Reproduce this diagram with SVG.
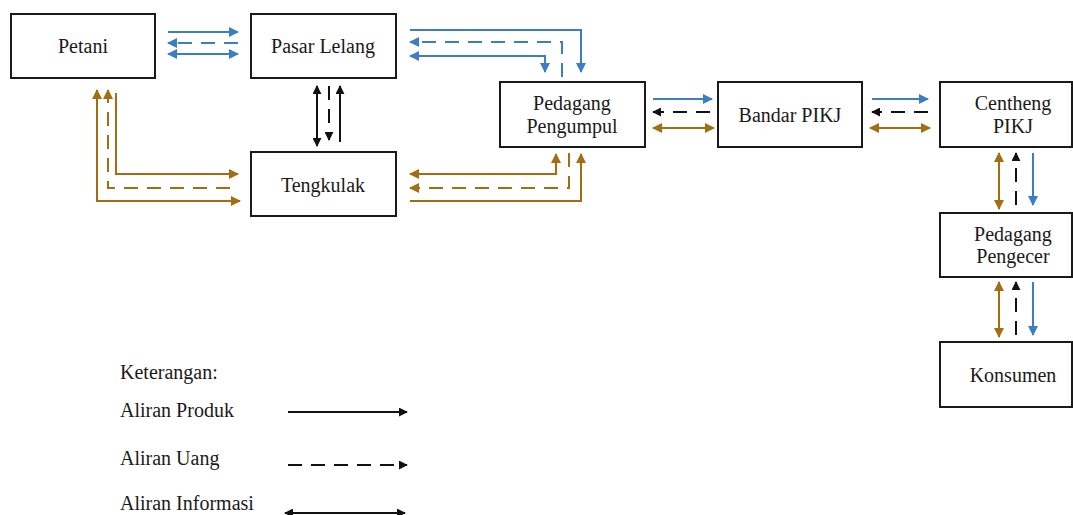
<svg xmlns="http://www.w3.org/2000/svg" width="1073" height="515" viewBox="0 0 1073 515">
<style>
.box{fill:#fff;stroke:#1a1a1a;stroke-width:2}
.t{font-family:"Liberation Serif","Times New Roman",serif;font-size:20px;fill:#1a1a1a;text-anchor:middle}
.lt{font-family:"Liberation Serif","Times New Roman",serif;font-size:20px;fill:#1a1a1a}
.c{fill:none;stroke-width:2}
.b{stroke:#3b7ec2}
.o{stroke:#a36d12}
.k{stroke:#111}
.d{stroke-dasharray:14 9}
.be{marker-end:url(#mb)}
.bs{marker-start:url(#mb)}
.oe{marker-end:url(#mo)}
.os{marker-start:url(#mo)}
.ke{marker-end:url(#mk)}
.ks{marker-start:url(#mk)}
</style>
<defs>
<marker id="mb" viewBox="0 0 10 10" refX="9" refY="5" markerWidth="10" markerHeight="10" markerUnits="userSpaceOnUse" orient="auto-start-reverse"><path d="M0,0 L10,5 L0,10 z" fill="#3b7ec2"/></marker>
<marker id="mo" viewBox="0 0 10 10" refX="9" refY="5" markerWidth="10" markerHeight="10" markerUnits="userSpaceOnUse" orient="auto-start-reverse"><path d="M0,0 L10,5 L0,10 z" fill="#a36d12"/></marker>
<marker id="mk" viewBox="0 0 10 10" refX="9" refY="5" markerWidth="9" markerHeight="9" markerUnits="userSpaceOnUse" orient="auto-start-reverse"><path d="M0,0 L10,5 L0,10 z" fill="#111"/></marker>
</defs>

<g id="connectors">
<path class="c b be" d="M168,32 H238"/>
<path class="c b d be" d="M238,43 H168"/>
<path class="c b bs be" d="M168,54 H238"/>

<path class="c b be" d="M410,30 H581 V72"/>
<path class="c b d be" d="M562,77 V42 H410"/>
<path class="c b bs be" d="M410,56 H545 V72"/>

<path class="c k ks ke" d="M317,86 V146"/>
<path class="c k d ke" d="M329,86 V140"/>
<path class="c k ke" d="M340,142 V86"/>

<path class="c o os oe" d="M97,90 V201 H240"/>
<path class="c o d oe" d="M230,188 H108 V90"/>
<path class="c o oe" d="M116,93 V174 H238"/>

<path class="c o os oe" d="M410,174 H556 V154"/>
<path class="c o d oe" d="M569,153 V188 H410"/>
<path class="c o oe" d="M410,201 H581 V154"/>

<path class="c b be" d="M653,99 H712"/>
<path class="c k d ke" d="M710,112 H653"/>
<path class="c o os oe" d="M653,128 H714"/>

<path class="c b be" d="M872,99 H928"/>
<path class="c k d ke" d="M928,112 H872"/>
<path class="c o os oe" d="M870,128 H930"/>

<path class="c o os oe" d="M999,153 V209"/>
<path class="c k d ke" d="M1016,205 V153"/>
<path class="c b be" d="M1033,153 V205"/>

<path class="c o os oe" d="M999,282 V337"/>
<path class="c k d ke" d="M1016,335 V282"/>
<path class="c b be" d="M1033,282 V335"/>
</g>

<g id="petani"><rect class="box" x="11" y="14" width="144" height="64"/><text class="t" x="83" y="53">Petani</text></g>
<g id="pasar-lelang"><rect class="box" x="251" y="14" width="145" height="64"/><text class="t" x="323" y="53">Pasar Lelang</text></g>
<g id="tengkulak"><rect class="box" x="251" y="152" width="145" height="64"/><text class="t" x="323" y="192">Tengkulak</text></g>
<g id="pedagang-pengumpul"><rect class="box" x="500" y="82" width="145" height="65"/><text class="t" x="572" y="110">Pedagang</text><text class="t" x="572" y="133">Pengumpul</text></g>
<g id="bandar-pikj"><rect class="box" x="718" y="82" width="144" height="65"/><text class="t" x="790" y="122">Bandar PIKJ</text></g>
<g id="centheng-pikj"><rect class="box" x="940" y="82" width="132" height="65"/><text class="t" x="1013" y="110">Centheng</text><text class="t" x="1013" y="133">PIKJ</text></g>
<g id="pedagang-pengecer"><rect class="box" x="940" y="213" width="132" height="64"/><text class="t" x="1013" y="241">Pedagang</text><text class="t" x="1013" y="263">Pengecer</text></g>
<g id="konsumen"><rect class="box" x="940" y="342" width="132" height="65"/><text class="t" x="1013" y="382">Konsumen</text></g>

<g id="legend">
<text class="lt" x="120" y="379">Keterangan:</text>
<text class="lt" x="120" y="417">Aliran Produk</text>
<text class="lt" x="120" y="465">Aliran Uang</text>
<text class="lt" x="120" y="510">Aliran Informasi</text>
<path class="c k ke" d="M288,412 H407"/>
<path class="c k d ke" d="M288,465 H407"/>
<path class="c k ks ke" d="M285,513 H405"/>
</g>
</svg>
